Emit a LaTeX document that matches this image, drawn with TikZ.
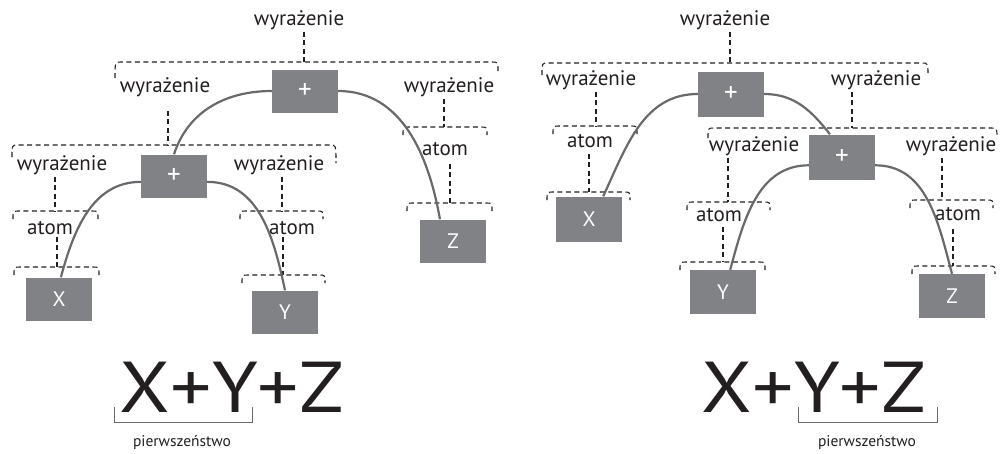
\documentclass[tikz,border=0pt]{standalone}
\usepackage{fontspec}
\setmainfont{PT Sans}
\definecolor{boxgray}{RGB}{128,130,133}
\definecolor{curvegray}{RGB}{105,105,108}
\definecolor{ink}{RGB}{35,31,32}
\newcommand\brk[5]{\draw[dsh] (#1,#3+#4) .. controls (#1,#3) .. (#1+6,#3) -- (#2-6,#3) .. controls (#2,#3) .. (#2,#3+#5);}
\newcommand\plussign{{\fontsize{27}{27}\selectfont +}}
\begin{document}
\begin{tikzpicture}[x=1pt,y=-1pt,
  dsh/.style={draw=ink,line width=1.1pt,dash pattern=on 5pt off 3.5pt},
  opbox/.style={fill=boxgray,minimum width=66pt,minimum height=43pt,inner sep=0pt,text=white,font=\fontsize{21}{22}\selectfont},
  lab/.style={inner sep=2pt,text=ink,font=\fontsize{21}{22}\selectfont},
  arc/.style={draw=curvegray,line width=2.2pt},
  big/.style={inner sep=0pt,text=ink,font=\fontsize{72}{72}\selectfont},
  small/.style={inner sep=0pt,text=ink,font=\fontsize{15.5}{16}\selectfont},
  under/.style={draw=curvegray,line width=1pt}]
\useasboundingbox (0,0) rectangle (1001,453);
% ---------------- left tree ----------------
\node[opbox] (R1) at (305,91) {\plussign};
\node[opbox] (P1) at (174,176) {\plussign};
\node[opbox] (X1) at (59,299) {X};
\node[opbox] (Y1) at (285,312) {Y};
\node[opbox] (Z1) at (453,241) {Z};
\node[lab] (T1) at (299,20) {wyrażenie};
\node[lab] (L1) at (165,87) {wyrażenie};
\node[lab] (Q1) at (449,87) {wyrażenie};
\node[lab] (AZ1) at (445,149) {atom};
\node[lab] (L2) at (62,165) {wyrażenie};
\node[lab] (AX1) at (50,228) {atom};
\node[lab] (L3) at (279,165) {wyrażenie};
\node[lab] (AY1) at (292,228) {atom};
\brk{115}{498}{62}{16}{9}
\brk{12}{336}{145}{12}{18}
\brk{403}{487}{127}{8}{8}
\brk{407}{492}{203}{8}{8}
\brk{13}{98}{211}{8}{8}
\brk{14}{99}{267}{8}{8}
\brk{240}{323}{211}{8}{8}
\brk{242}{325}{275}{8}{8}
\coordinate (b1) at (304,62);
\coordinate (b2) at (168,145);
\coordinate (b3) at (444,127);
\coordinate (b4) at (450,203);
\coordinate (b5) at (55,211);
\coordinate (b6) at (57,267);
\coordinate (b7) at (282,211);
\coordinate (b8) at (283,275);
\draw[dsh] (T1.south -| b1) -- (b1);
\draw[dsh] ([yshift=-12pt]L1.south -| b2) -- (b2);
\draw[dsh] (Q1.south -| b3) -- (b3);
\draw[dsh] ([yshift=-6pt]AZ1.south -| b4) -- (b4);
\draw[dsh] (L2.south -| b5) -- (b5);
\draw[dsh] (AX1.south -| b6) -- (b6);
\draw[dsh] (L3.south -| b7) -- (b7);
\draw[dsh] (AY1.south -| b8) -- (b8);
\draw[arc] (R1.west) to[out=180,in=72] (P1.north);
\draw[arc] (R1.east) to[out=0,in=100] (Z1.121);
\draw[arc] (P1.190) to[out=180,in=75] (X1.85);
\draw[arc] (P1.-10) to[out=0,in=102] (Y1.north);
\node[big] (E1) at (232,387) {\scalebox{1.14}[1]{X+Y+Z}};
\coordinate (u1a) at (114,407);
\coordinate (u1b) at (252,407);
\draw[under] (u1a) -- ++(0,15) -| (u1b);
\node[small] (N1) at (182,442) {pierwszeństwo};
% ---------------- right tree ----------------
\node[opbox,minimum height=45pt] (R2) at (731,94) {\plussign};
\node[opbox,minimum height=45pt] (P2) at (842,157) {\plussign};
\node[opbox,minimum height=45pt] (X2) at (589,219) {X};
\node[opbox,minimum height=44pt] (Y2) at (723,292) {Y};
\node[opbox,minimum height=44pt] (Z2) at (952,296) {Z};
\node[lab] (T2) at (725,20) {wyrażenie};
\node[lab] (L4) at (591,80) {wyrażenie};
\node[lab] (AX2) at (590,141) {atom};
\node[lab] (Q4) at (876,80) {wyrażenie};
\node[lab] (L5) at (754,146) {wyrażenie};
\node[lab] (AY2) at (719,215) {atom};
\node[lab] (L6) at (951,146) {wyrażenie};
\node[lab] (AZ2) at (958,214) {atom};
\brk{542}{928}{63}{12}{13}
\brk{553}{637}{126}{8}{8}
\brk{547}{630}{192}{8}{8}
\brk{708}{997}{128}{10}{10}
\brk{687}{770}{202}{8}{8}
\brk{680}{765}{262}{8}{8}
\brk{910}{993}{200}{8}{8}
\brk{912}{995}{266}{8}{8}
\coordinate (c1) at (730,63);
\coordinate (c2) at (596,126);
\coordinate (c3) at (589,192);
\coordinate (c4) at (852,128);
\coordinate (c5) at (728,202);
\coordinate (c6) at (723,262);
\coordinate (c7) at (942,200);
\coordinate (c8) at (953,266);
\draw[dsh] (T2.south -| c1) -- (c1);
\draw[dsh] (L4.south -| c2) -- (c2);
\draw[dsh] ([yshift=-4pt]AX2.south -| c3) -- (c3);
\draw[dsh] (Q4.south -| c4) -- (c4);
\draw[dsh] (L5.south -| c5) -- (c5);
\draw[dsh] ([yshift=-3pt]AY2.south -| c6) -- (c6);
\draw[dsh] (L6.south -| c7) -- (c7);
\draw[dsh] ([yshift=-6pt]AZ2.south -| c8) -- (c8);
\draw[arc] (R2.west) to[out=180,in=65] (X2.58);
\draw[arc] (R2.east) to[out=0,in=128] (P2.118);
\draw[arc] (P2.194) to[out=180,in=75] (Y2.72);
\draw[arc] (P2.-14) to[out=0,in=105] (Z2.north);
\node[big] (E2) at (814,387) {\scalebox{1.14}[1]{X+Y+Z}};
\coordinate (u2a) at (798,407);
\coordinate (u2b) at (937,407);
\draw[under] (u2a) -- ++(0,15) -| (u2b);
\node[small] (N2) at (867,442) {pierwszeństwo};
\end{tikzpicture}
\end{document}
